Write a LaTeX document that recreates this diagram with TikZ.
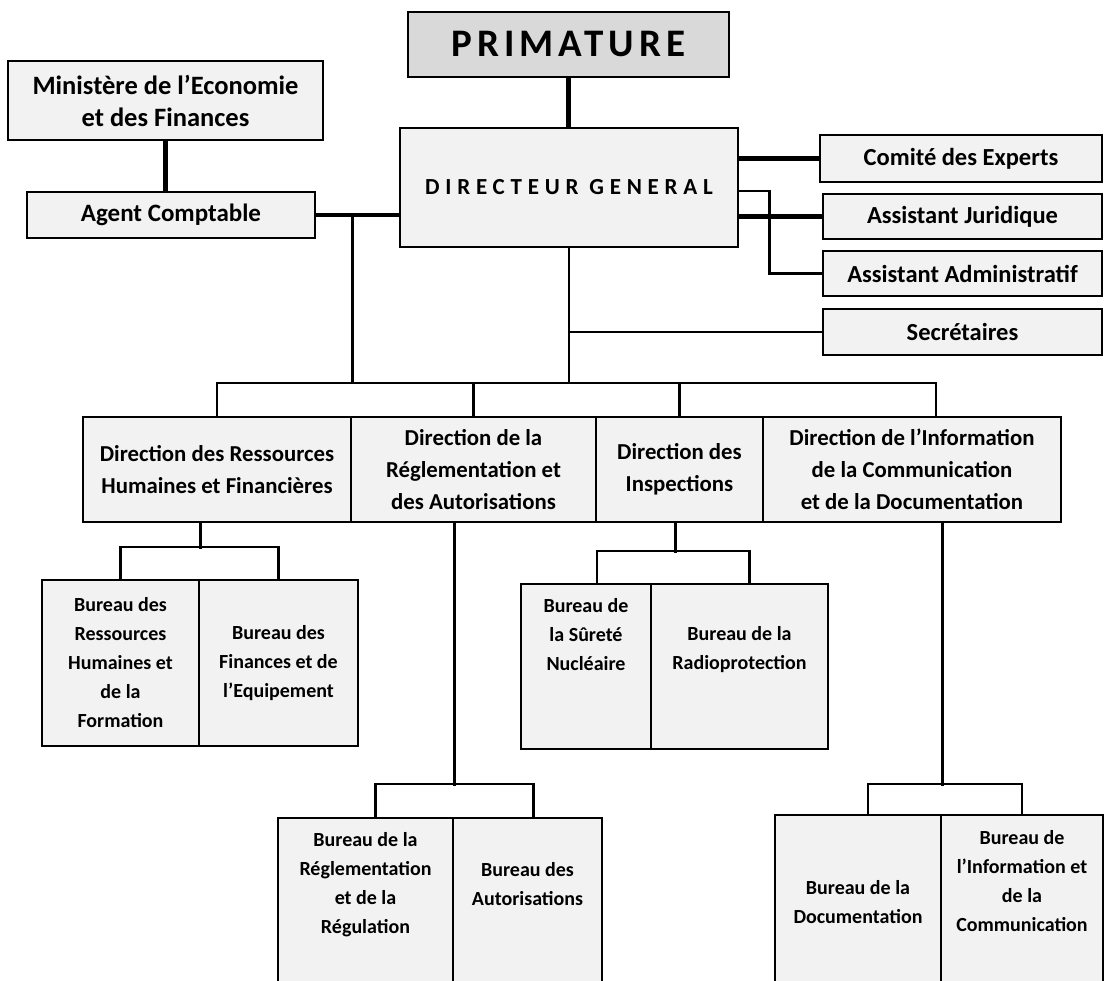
\documentclass[tikz,border=0pt]{standalone}
\usepackage{fontspec}
\setmainfont{Carlito}
\definecolor{boxfill}{HTML}{F2F2F2}
\definecolor{topfill}{HTML}{D9D9D9}

\begin{document}
\begin{tikzpicture}[
        x=1pt, y=-1pt,
        box/.style={draw, line width=2.6pt, fill=boxfill, align=center, inner sep=0pt},
        side/.style={box, minimum width=279pt, minimum height=46pt,
                font=\bfseries\fontsize{24.5}{28}\selectfont},
        dir/.style={box, minimum height=105pt, font=\bfseries\fontsize{22.8}{32}\selectfont},
        bureau/.style={box, font=\bfseries\fontsize{20}{29}\selectfont},
        btext/.style={align=center, inner sep=0pt, font=\bfseries\fontsize{20}{29}\selectfont},
        link/.style={line width=2.4pt},
        boldlink/.style={line width=4.2pt}
    ]
    \useasboundingbox (0,0) rectangle (1105,981);
    \clip (0,0) rectangle (1105,981);

    % top of the chart
    \node[box, fill=topfill, minimum width=321pt, minimum height=65pt,
        font=\bfseries\fontsize{39}{40}\selectfont\addfontfeature{LetterSpace=13}] (prim) at (568.5,44.5) {PRIMATURE};
    \node[box, minimum width=338pt, minimum height=119pt,
        font=\bfseries\fontsize{23}{26}\selectfont\addfontfeature{LetterSpace=25}] (dg) at (569,187.5) {DIRECTEUR GENERAL};
    \node[box, minimum width=315pt, minimum height=79pt,
        font=\bfseries\fontsize{26.5}{32}\selectfont] (min) at (165.5,100.5) {Ministère de l’Economie\\et des Finances};
    \node[box, minimum width=288pt, minimum height=46pt,
        font=\bfseries\fontsize{25}{28}\selectfont] (agent) at (171,215) {Agent Comptable};

    \node[side, minimum width=282pt, minimum height=47pt] (comite) at (961,158.5) {Comité des Experts};
    \node[side, minimum height=45pt] (jur) at (962.5,216.5) {Assistant Juridique};
    \node[side, minimum height=45pt] (adm) at (962.5,273.5) {Assistant Administratif};
    \node[side] (secr) at (962.5,332) {Secrétaires};

    % directions
    \node[dir, minimum width=268pt] (drhf) at (217,469.5) {Direction des Ressources\\Humaines et Financières};
    \node[dir, minimum width=245pt] (dra) at (473.5,469.5) {Direction de la\\Réglementation et\\des Autorisations};
    \node[dir, minimum width=167pt] (di) at (679.5,469.5) {Direction des\\Inspections};
    \node[dir, minimum width=298pt] (dic) at (912,469.5) {Direction de l’Information\\de la Communication\\et de la Documentation};

    % bureaux
    \node[bureau, minimum width=157pt, minimum height=166pt] (rh) at (120.5,663) {Bureau des\\Ressources\\Humaines et\\de la\\Formation};
    \node[bureau, minimum width=159pt, minimum height=166pt] (fin) at (278.5,663) {Bureau des\\Finances et de\\l’Equipement};
    \node[bureau, minimum width=130pt, minimum height=165pt] (sur) at (586,666.5) {};
    \node[bureau, minimum width=177pt, minimum height=165pt] (rad) at (739.5,666.5) {};
    \node[bureau, minimum width=175pt, minimum height=192pt] (rgl) at (365.5,914) {};
    \node[bureau, minimum width=149pt, minimum height=192pt] (aut) at (527.5,914) {};
    \node[bureau, minimum width=166pt, minimum height=195pt] (doc) at (858,912.5) {};
    \node[bureau, minimum width=162pt, minimum height=195pt] (inf) at (1022,912.5) {};

    \node[btext] (sur-t) at (586,634.5) {Bureau de\\la Sûreté\\Nucléaire};
    \node[btext] (rad-t) at (739.5,649.5) {Bureau de la\\Radioprotection};
    \node[btext] (rgl-t) at (365.5,884.5) {Bureau de la\\Réglementation\\et de la\\Régulation};
    \node[btext] (aut-t) at (527.5,884.5) {Bureau des\\Autorisations};
    \node[btext] (doc-t) at (858,902.5) {Bureau de la\\Documentation};
    \node[btext] (inf-t) at (1022,881.5) {Bureau de\\l’Information et\\de la\\Communication};

    % links
    \draw[boldlink] (prim.south) -- (prim.south |- dg.north);
    \draw[boldlink] (min.south) -- (min.south |- agent.north);
    \draw[boldlink] (agent.east) -- (agent.east -| dg.west);
    \draw[boldlink] (dg.east |- comite) -- (comite.west);
    \draw[boldlink] (dg.east |- jur) -- (jur.west);
    \draw[link] ([yshift=-3.5pt]dg.east) -- ++(30,0) |- (adm.west);

    \coordinate (bus) at (dg.south |- 0,383);
    \coordinate (dic-in) at ([xshift=24pt]dic.north);
    \draw[link] (dg.south) -- (bus);
    \draw[link] (dg.south |- secr) -- (secr.west);
    \draw[link] (drhf.north) |- (bus) -| (dic-in);
    \draw[link] (dra.north) -- (dra.north |- bus);
    \draw[link] (di.north) -- (di.north |- bus);
    \draw[link] (agent.east -| drhf.east) -- (drhf.east |- bus);

    \draw[link] (drhf.south -| rh.east) -- ++(0,26);
    \draw[link] (rh.north) -- ++(0,-32) -| (fin.north);
    \draw[link] ([xshift=-4pt]di.south) -- ++(0,30);
    \draw[link] ([xshift=11pt]sur.north) -- ++(0,-32) -| ([xshift=10pt]rad.north);
    \draw[link] (dra.south -| rgl.east) -- ++(0,263);
    \draw[link] ([xshift=10pt]rgl.north) -- ++(0,-33) -| ([xshift=6pt]aut.north);
    \draw[link] (dic.south -| doc.east) -- ++(0,263);
    \draw[link] ([xshift=10pt]doc.north) -- ++(0,-30) -| (inf.north);
\end{tikzpicture}
\end{document}
